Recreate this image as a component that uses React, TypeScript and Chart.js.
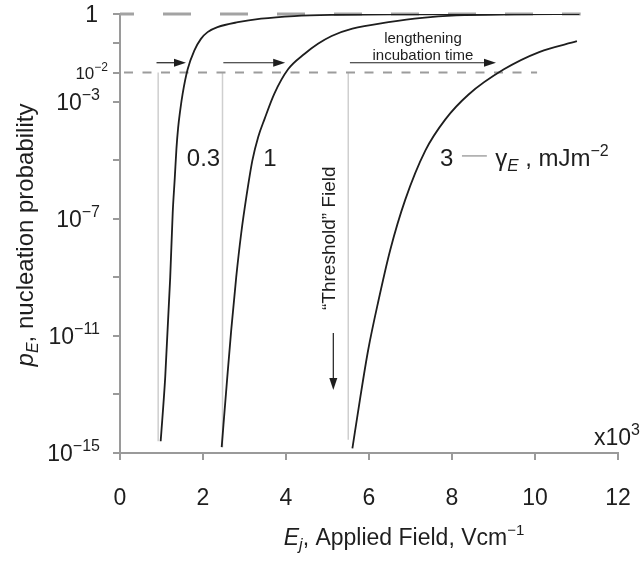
import React, { useEffect, useRef } from 'react';
import { Chart, registerables } from 'chart.js';

Chart.register(...registerables);

const FONT = '"Liberation Sans", Arial, Helvetica, sans-serif';

// ---- axis data ----
const xTickValues = [0, 2, 4, 6, 8, 10, 12];
const yTickValues = [1, 1e-1, 1e-2, 1e-3, 1e-5, 1e-7, 1e-9, 1e-11, 1e-13, 1e-15];
const yLabelExponents = [0, -2, -3, -7, -11, -15];

// ---- curves: applied field (x10^3 V/cm) and log10 of nucleation probability ----
const fieldG03 = [0.98, 1.09, 1.21, 1.27, 1.32, 1.36, 1.40, 1.45, 1.51, 1.63, 1.79, 1.95, 2.11, 2.35, 2.84, 3.40, 4.20, 5.10, 7.00, 11.05];
const logPG03 = [-14.6, -12.4, -9.0, -6.8, -5.6, -4.6, -3.9, -3.3, -2.72, -1.89, -1.25, -0.85, -0.62, -0.45, -0.28, -0.16, -0.07, -0.03, -0.01, 0];

const fieldG1 = [2.45, 2.58, 2.68, 2.80, 2.92, 3.05, 3.19, 3.33, 3.48, 3.72, 4.05, 4.45, 4.77, 5.10, 5.60, 6.47, 7.28, 8.10, 9.50, 11.07];
const logPG1 = [-14.8, -12.5, -10.8, -9.0, -7.5, -6.2, -5.0, -4.2, -3.6, -2.72, -1.89, -1.36, -1.02, -0.75, -0.50, -0.28, -0.13, -0.05, -0.015, 0];

const fieldG3 = [5.60, 5.78, 5.98, 6.23, 6.51, 6.87, 7.36, 7.84, 8.40, 9.25, 10.10, 11.01];
const logPG3 = [-14.84, -13.19, -11.48, -9.78, -8.07, -6.36, -4.66, -3.60, -2.75, -1.89, -1.30, -0.93];

// ---- reference marks ----
const topLineEnd = 11.1;
const incubationLevelLogP = -2;
const incubationLineEnd = 10.05;
const thresholdFields = [0.92, 2.47, 5.5];
const thresholdBottomLogP = [-14.6, -14.8, -14.55];
const arrowStart = [0.88, 2.49, 5.54];
const arrowEnd = [1.59, 3.98, 9.06];
const arrowLogP = -1.665;
const downArrowField = 5.14;
const downArrowLogP = [-10.9, -12.85];

const pts = (xs: number[], ls: number[]) => xs.map((x, i) => ({ x, y: Math.pow(10, ls[i]) }));

type Part = { t: string; size: number; italic?: boolean; dy?: number };
const fontOf = (p: Part) => `${p.italic ? 'italic ' : ''}${p.size}px ${FONT}`;
function richWidth(ctx: CanvasRenderingContext2D, parts: Part[]) {
  let w = 0;
  for (const p of parts) { ctx.font = fontOf(p); w += ctx.measureText(p.t).width; }
  return w;
}
function drawRich(ctx: CanvasRenderingContext2D, parts: Part[], x: number, y: number, align: 'left' | 'center' | 'right') {
  const w = richWidth(ctx, parts);
  let cx = align === 'left' ? x : align === 'center' ? x - w / 2 : x - w;
  ctx.textAlign = 'left';
  ctx.textBaseline = 'alphabetic';
  for (const p of parts) {
    ctx.font = fontOf(p);
    ctx.fillText(p.t, cx, y + (p.dy || 0));
    cx += ctx.measureText(p.t).width;
  }
}
function arrowHead(ctx: CanvasRenderingContext2D, tx: number, ty: number, dx: number, dy: number, len = 12, half = 4) {
  const px = -dy, py = dx;
  ctx.beginPath();
  ctx.moveTo(tx, ty);
  ctx.lineTo(tx - dx * len + px * half, ty - dy * len + py * half);
  ctx.lineTo(tx - dx * len - px * half, ty - dy * len - py * half);
  ctx.closePath();
  ctx.fill();
}

const overlay = {
  id: 'overlay',
  afterDatasetsDraw(chart: any) {
    const ctx: CanvasRenderingContext2D = chart.ctx;
    const xs = chart.scales.x, ys = chart.scales.y;
    const X = (v: number) => xs.getPixelForValue(v);
    const Y = (l: number) => ys.getPixelForValue(Math.pow(10, l));
    ctx.save();
    ctx.fillStyle = '#1e1e1e';
    // arrow heads
    for (let i = 0; i < arrowEnd.length; i++) arrowHead(ctx, X(arrowEnd[i]), Y(arrowLogP), 1, 0, 12, 4);
    arrowHead(ctx, X(downArrowField), Y(downArrowLogP[1]), 0, 1, 12, 4);

    // curve labels
    ctx.fillStyle = '#1e1e1e';
    drawRich(ctx, [{ t: '0.3', size: 24 }], X(1.61), Y(-4.9) + 9, 'left');
    drawRich(ctx, [{ t: '1', size: 24 }], X(3.45), Y(-4.9) + 9, 'left');
    drawRich(ctx, [{ t: '3', size: 24 }], X(7.71), Y(-4.9) + 9, 'left');
    ctx.strokeStyle = '#777';
    ctx.lineWidth = 1;
    ctx.beginPath();
    ctx.moveTo(X(8.24), Y(-4.85));
    ctx.lineTo(X(8.84), Y(-4.85));
    ctx.stroke();
    drawRich(ctx, [
      { t: 'γ', size: 24 },
      { t: 'E', size: 17, italic: true, dy: 5 },
      { t: ' , mJm', size: 24 },
      { t: '−2', size: 16, dy: -10 },
    ], X(9.04), Y(-4.9) + 9, 'left');

    // lengthening incubation time
    drawRich(ctx, [{ t: 'lengthening', size: 15 }], X(7.3), Y(-0.83) + 5, 'center');
    drawRich(ctx, [{ t: 'incubation time', size: 15 }], X(7.3), Y(-1.39) + 5, 'center');

    // threshold field (rotated)
    ctx.save();
    ctx.translate(X(5.02), Y(-7.66));
    ctx.rotate(-Math.PI / 2);
    drawRich(ctx, [{ t: '“Threshold” Field', size: 19 }], 0, 7, 'center');
    ctx.restore();
    ctx.restore();
  },
  afterDraw(chart: any) {
    const ctx: CanvasRenderingContext2D = chart.ctx;
    const ys = chart.scales.y;
    const area = chart.chartArea;
    ctx.save();
    ctx.fillStyle = '#1e1e1e';
    // y tick labels
    for (const e of yLabelExponents) {
      const py = ys.getPixelForValue(Math.pow(10, e));
      if (e === 0) {
        drawRich(ctx, [{ t: '1', size: 23 }], area.left - 22, py + 8, 'right');
      } else if (e === -2) {
        drawRich(ctx, [{ t: '10', size: 17 }, { t: '−2', size: 12, dy: -8 }], area.left - 12, py + 6, 'right');
      } else {
        drawRich(ctx, [{ t: '10', size: 23 }, { t: '−' + String(-e), size: 16, dy: -10 }], area.left - 20, py + 8, 'right');
      }
    }
    // x10^3
    drawRich(ctx, [{ t: 'x10', size: 23 }, { t: '3', size: 16, dy: -10 }], 640, area.bottom - 8, 'right');
    // x title
    drawRich(ctx, [
      { t: 'E', size: 23, italic: true },
      { t: 'j', size: 16, italic: true, dy: 5 },
      { t: ', Applied Field, Vcm', size: 23 },
      { t: '−1', size: 15, dy: -10 },
    ], 404, 545, 'center');
    // y title
    ctx.save();
    ctx.translate(24, 235);
    ctx.rotate(-Math.PI / 2);
    drawRich(ctx, [
      { t: 'p', size: 24, italic: true },
      { t: 'E', size: 16, italic: true, dy: 5 },
      { t: ', nucleation probability', size: 24 },
    ], 0, 9, 'center');
    ctx.restore();
    ctx.restore();
  },
};

export default function App() {
  const ref = useRef<HTMLCanvasElement | null>(null);
  useEffect(() => {
    if (!ref.current) return;
    const curve = (data: any[]) => ({
      data,
      borderColor: '#1e1e1e',
      borderWidth: 1.8,
      pointRadius: 0,
      cubicInterpolationMode: 'monotone',
      fill: false,
    });
    const ref1 = (data: any[], color: string, width: number, dash: number[] = [], offset = 0) => ({
      data,
      borderColor: color,
      borderWidth: width,
      borderDash: dash,
      borderDashOffset: offset,
      pointRadius: 0,
      tension: 0,
      clip: false,
      fill: false,
    });
    const datasets: any[] = [
      curve(pts(fieldG03, logPG03)),
      curve(pts(fieldG1, logPG1)),
      curve(pts(fieldG3, logPG3)),
      ...arrowStart.map((s, i) => ref1([{ x: s, y: Math.pow(10, arrowLogP) }, { x: arrowEnd[i] - 0.2, y: Math.pow(10, arrowLogP) }], '#1e1e1e', 1.2)),
      ref1([{ x: downArrowField, y: Math.pow(10, downArrowLogP[0]) }, { x: downArrowField, y: Math.pow(10, downArrowLogP[1] + 0.3) }], '#1e1e1e', 1.2),
      ref1([{ x: 0, y: 1 }, { x: topLineEnd, y: 1 }], '#a3a3a3', 3, [28, 29], 14),
      ref1([{ x: 0, y: Math.pow(10, incubationLevelLogP) }, { x: incubationLineEnd, y: Math.pow(10, incubationLevelLogP) }], '#9c9c9c', 2, [9, 9.5], -4),
      ...thresholdFields.map((f, i) => ref1([{ x: f, y: Math.pow(10, incubationLevelLogP) }, { x: f, y: Math.pow(10, thresholdBottomLogP[i]) }], '#cfcfcf', 1.5)),
    ];
    const chart = new Chart(ref.current, {
      type: 'line',
      data: { datasets },
      options: {
        animation: false,
        responsive: true,
        maintainAspectRatio: false,
        layout: { padding: { top: 14, right: 23, left: 0, bottom: 0 } },
        plugins: { legend: { display: false }, tooltip: { enabled: false } },
        scales: {
          x: {
            type: 'linear',
            min: 0,
            max: 12,
            afterBuildTicks: (s: any) => { s.ticks = xTickValues.map((v) => ({ value: v })); },
            afterFit: (s: any) => { s.height = 111; s.paddingLeft = 0; s.paddingRight = 0; },
            grid: { drawOnChartArea: false, drawTicks: true, tickLength: 7, color: '#9a9a9a', lineWidth: 2 },
            border: { display: true, color: '#9a9a9a', width: 2 },
            ticks: { color: '#1e1e1e', font: { size: 23, family: FONT }, padding: 25, maxRotation: 0 },
          },
          y: {
            type: 'logarithmic',
            min: 1e-15,
            max: 1,
            afterBuildTicks: (s: any) => { s.ticks = yTickValues.map((v) => ({ value: v })); },
            afterFit: (s: any) => { s.width = 120; s.paddingTop = 0; s.paddingBottom = 0; },
            grid: { drawOnChartArea: false, drawTicks: true, tickLength: 7, color: '#9a9a9a', lineWidth: 2 },
            border: { display: true, color: '#9a9a9a', width: 2 },
            ticks: { callback: () => '', font: { size: 12 } },
          },
        },
      } as any,
      plugins: [overlay],
    });
    return () => chart.destroy();
  }, []);
  return (
    <div style={{ position: 'fixed', left: 0, top: 0, width: 641, height: 564, background: '#fff' }}>
      <canvas ref={ref} />
    </div>
  );
}
